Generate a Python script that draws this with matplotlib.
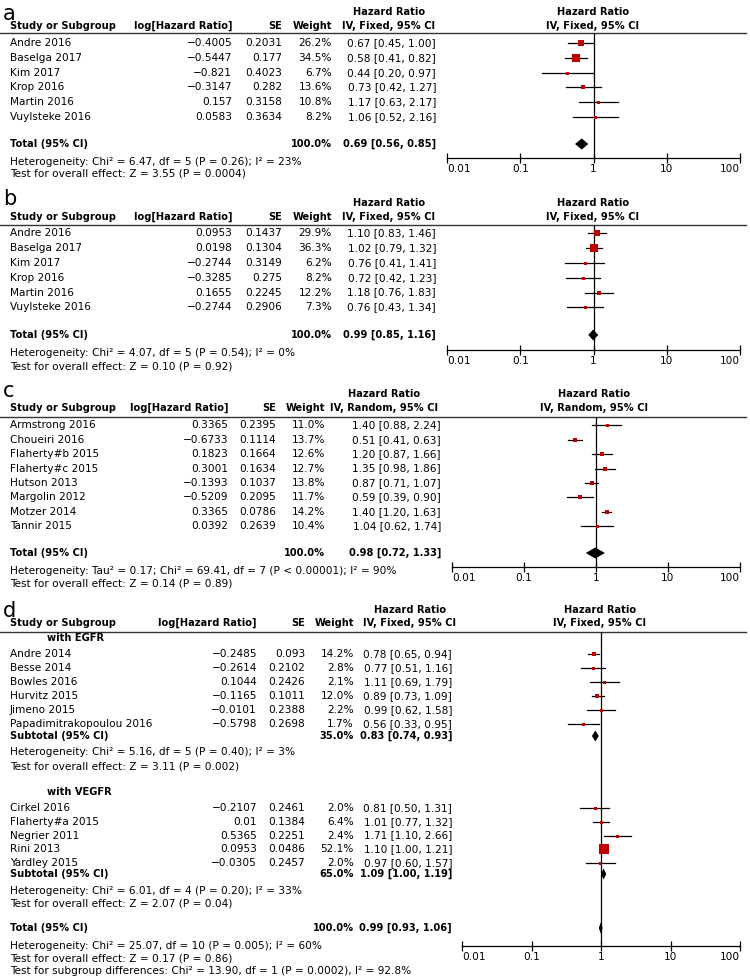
import numpy as np
import matplotlib
matplotlib.use('Agg')
import matplotlib.pyplot as plt
from matplotlib.ticker import NullLocator

plt.rcParams['font.family'] = 'DejaVu Sans'
FS = 7.6
FSB = 7.1
RED = '#c00000'

# ---- panel a ----
a_study = ['Andre 2016', 'Baselga 2017', 'Kim 2017', 'Krop 2016', 'Martin 2016', 'Vuylsteke 2016']
a_loghr = [-0.4005, -0.5447, -0.821, -0.3147, 0.157, 0.0583]
a_se = [0.2031, 0.177, 0.4023, 0.282, 0.3158, 0.3634]
a_weight = [26.2, 34.5, 6.7, 13.6, 10.8, 8.2]
a_hr = [0.67, 0.58, 0.44, 0.73, 1.17, 1.06]
a_lo = [0.45, 0.41, 0.20, 0.42, 0.63, 0.52]
a_hi = [1.00, 0.82, 0.97, 1.27, 2.17, 2.16]
a_total = [0.69, 0.56, 0.85]
a_notes = ['Heterogeneity: Chi² = 6.47, df = 5 (P = 0.26); I² = 23%',
           'Test for overall effect: Z = 3.55 (P = 0.0004)']

# ---- panel b ----
b_study = ['Andre 2016', 'Baselga 2017', 'Kim 2017', 'Krop 2016', 'Martin 2016', 'Vuylsteke 2016']
b_loghr = [0.0953, 0.0198, -0.2744, -0.3285, 0.1655, -0.2744]
b_se = [0.1437, 0.1304, 0.3149, 0.275, 0.2245, 0.2906]
b_weight = [29.9, 36.3, 6.2, 8.2, 12.2, 7.3]
b_hr = [1.10, 1.02, 0.76, 0.72, 1.18, 0.76]
b_lo = [0.83, 0.79, 0.41, 0.42, 0.76, 0.43]
b_hi = [1.46, 1.32, 1.41, 1.23, 1.83, 1.34]
b_total = [0.99, 0.85, 1.16]
b_notes = ['Heterogeneity: Chi² = 4.07, df = 5 (P = 0.54); I² = 0%',
           'Test for overall effect: Z = 0.10 (P = 0.92)']

# ---- panel c ----
c_study = ['Armstrong 2016', 'Choueiri 2016', 'Flaherty#b 2015', 'Flaherty#c 2015',
           'Hutson 2013', 'Margolin 2012', 'Motzer 2014', 'Tannir 2015']
c_loghr = [0.3365, -0.6733, 0.1823, 0.3001, -0.1393, -0.5209, 0.3365, 0.0392]
c_se = [0.2395, 0.1114, 0.1664, 0.1634, 0.1037, 0.2095, 0.0786, 0.2639]
c_weight = [11.0, 13.7, 12.6, 12.7, 13.8, 11.7, 14.2, 10.4]
c_hr = [1.40, 0.51, 1.20, 1.35, 0.87, 0.59, 1.40, 1.04]
c_lo = [0.88, 0.41, 0.87, 0.98, 0.71, 0.39, 1.20, 0.62]
c_hi = [2.24, 0.63, 1.66, 1.86, 1.07, 0.90, 1.63, 1.74]
c_total = [0.98, 0.72, 1.33]
c_notes = ['Heterogeneity: Tau² = 0.17; Chi² = 69.41, df = 7 (P < 0.00001); I² = 90%',
           'Test for overall effect: Z = 0.14 (P = 0.89)']

# ---- panel d ----
d1_study = ['Andre 2014', 'Besse 2014', 'Bowles 2016', 'Hurvitz 2015', 'Jimeno 2015',
            'Papadimitrakopoulou 2016']
d1_loghr = [-0.2485, -0.2614, 0.1044, -0.1165, -0.0101, -0.5798]
d1_se = [0.093, 0.2102, 0.2426, 0.1011, 0.2388, 0.2698]
d1_weight = [14.2, 2.8, 2.1, 12.0, 2.2, 1.7]
d1_hr = [0.78, 0.77, 1.11, 0.89, 0.99, 0.56]
d1_lo = [0.65, 0.51, 0.69, 0.73, 0.62, 0.33]
d1_hi = [0.94, 1.16, 1.79, 1.09, 1.58, 0.95]
d1_sub = [0.83, 0.74, 0.93]
d1_subw = 35.0
d1_notes = ['Heterogeneity: Chi² = 5.16, df = 5 (P = 0.40); I² = 3%',
            'Test for overall effect: Z = 3.11 (P = 0.002)']

d2_study = ['Cirkel 2016', 'Flaherty#a 2015', 'Negrier 2011', 'Rini 2013', 'Yardley 2015']
d2_loghr = [-0.2107, 0.01, 0.5365, 0.0953, -0.0305]
d2_se = [0.2461, 0.1384, 0.2251, 0.0486, 0.2457]
d2_weight = [2.0, 6.4, 2.4, 52.1, 2.0]
d2_hr = [0.81, 1.01, 1.71, 1.10, 0.97]
d2_lo = [0.50, 0.77, 1.10, 1.00, 0.60]
d2_hi = [1.31, 1.32, 2.66, 1.21, 1.57]
d2_sub = [1.09, 1.00, 1.19]
d2_subw = 65.0
d2_notes = ['Heterogeneity: Chi² = 6.01, df = 4 (P = 0.20); I² = 33%',
            'Test for overall effect: Z = 2.07 (P = 0.04)']

d_total = [0.99, 0.93, 1.06]
d_notes = ['Heterogeneity: Chi² = 25.07, df = 10 (P = 0.005); I² = 60%',
           'Test for overall effect: Z = 0.17 (P = 0.86)',
           'Test for subgroup differences: Chi² = 13.90, df = 1 (P = 0.0002), I² = 92.8%']

W, H = 750, 980
fig = plt.figure(figsize=(7.5, 9.8), dpi=100)
bg = fig.add_axes([0, 0, 1, 1])
bg.set_xlim(0, W)
bg.set_ylim(H, 0)
bg.axis('off')


def txt(x, y, s, ha='left', bold=False, size=None, va='center'):
    if size is None:
        size = FSB if bold else FS
    bg.text(x, y, s, ha=ha, va=va, fontsize=size,
            fontweight='bold' if bold else 'normal', color='black')


def num(v):
    return str(v).replace('-', '\u2212')


def hrtxt(h, l, u):
    return '%.2f [%.2f, %.2f]' % (h, l, u)


def forest_ax(x0, x1, ytop, ybot):
    ax = fig.add_axes([x0 / W, 1 - ybot / H, (x1 - x0) / W, (ybot - ytop) / H])
    ax.set_xscale('log')
    ax.set_xlim(0.01, 100)
    ax.set_ylim(ybot, ytop)
    ax.patch.set_alpha(0)
    for s in ['left', 'right', 'top']:
        ax.spines[s].set_visible(False)
    ax.spines['bottom'].set_linewidth(0.9)
    ax.set_yticks([])
    ax.set_xticks([0.01, 0.1, 1, 10, 100])
    ax.set_xticklabels(['0.01', '0.1', '1', '10', '100'], fontsize=FS)
    ax.xaxis.set_minor_locator(NullLocator())
    ax.tick_params(axis='x', direction='inout', length=7, width=0.9, pad=1)
    for lbl, ha in zip(ax.get_xticklabels(), ['left', 'center', 'center', 'center', 'right']):
        lbl.set_horizontalalignment(ha)
    ax.axvline(1, color='black', lw=0.9)
    return ax


def study_rows(ax, cols, ys, study, loghr, se, weight, hr, lo, hi):
    xname, xlog, xse, xw, xhr = cols
    for y, s, lg, e, w, h, l, u in zip(ys, study, loghr, se, weight, hr, lo, hi):
        txt(xname, y, s)
        txt(xlog, y, num(lg), ha='right')
        txt(xse, y, num(e), ha='right')
        txt(xw, y, '%.1f%%' % w, ha='right')
        txt(xhr, y, hrtxt(h, l, u), ha='right')
        ax.plot([l, u], [y, y], color='black', lw=0.9)
        side = max(3.0, 0.19 * w + 0.8)
        ax.plot(h, y, marker='s', ms=side * 0.72, color=RED, mec=RED, mew=0)


def diamond(ax, y, est, hh=5.5):
    h, l, u = est
    ax.fill([l, h, u, h], [y, y - hh, y, y + hh], color='black', lw=0, clip_on=False)


def header(letter, lbase, y1, y2, yline, cols, hrc, plotc, method):
    xname, xlog, xse, xw, xhr = cols
    txt(3, lbase, letter, size=15, va='baseline')
    txt(hrc, y1, 'Hazard Ratio', ha='center', bold=True)
    txt(plotc, y1, 'Hazard Ratio', ha='center', bold=True)
    txt(xname, y2, 'Study or Subgroup', bold=True)
    txt(xlog, y2, 'log[Hazard Ratio]', ha='right', bold=True)
    txt(xse, y2, 'SE', ha='right', bold=True)
    txt(xw, y2, 'Weight', ha='right', bold=True)
    txt(hrc, y2, method, ha='center', bold=True)
    txt(plotc, y2, method, ha='center', bold=True)
    bg.plot([0, 746], [yline, yline], color='#333333', lw=1.0)


def rows_y(start, step, n):
    return [start + i * step for i in range(n)]


# panel a
cols = (10, 232, 282, 332, 436)
header('a', 19.8, 12, 26, 33, cols, 389, 593, 'IV, Fixed, 95% CI')
ax = forest_ax(447, 740, 33, 158)
study_rows(ax, cols, rows_y(43.3, 14.7, 6), a_study, a_loghr, a_se, a_weight, a_hr, a_lo, a_hi)
txt(10, 144, 'Total (95% CI)', bold=True)
txt(332, 144, '100.0%', ha='right', bold=True)
txt(436, 144, hrtxt(*a_total), ha='right', bold=True)
diamond(ax, 144, a_total)
txt(10, 162, a_notes[0])
txt(10, 174, a_notes[1])

# panel b
header('b', 205, 203, 217, 225, cols, 389, 593, 'IV, Fixed, 95% CI')
ax = forest_ax(447, 740, 225, 350)
study_rows(ax, cols, rows_y(233.3, 14.8, 6), b_study, b_loghr, b_se, b_weight, b_hr, b_lo, b_hi)
txt(10, 335, 'Total (95% CI)', bold=True)
txt(332, 335, '100.0%', ha='right', bold=True)
txt(436, 335, hrtxt(*b_total), ha='right', bold=True)
diamond(ax, 335, b_total)
txt(10, 353, b_notes[0])
txt(10, 366, b_notes[1])

# panel c
cols = (10, 228, 276, 325, 441)
header('c', 397, 394, 408, 417, cols, 384, 594, 'IV, Random, 95% CI')
ax = forest_ax(452, 740, 417, 567)
study_rows(ax, cols, rows_y(425.3, 14.4, 8), c_study, c_loghr, c_se, c_weight, c_hr, c_lo, c_hi)
txt(10, 553, 'Total (95% CI)', bold=True)
txt(325, 553, '100.0%', ha='right', bold=True)
txt(441, 553, hrtxt(*c_total), ha='right', bold=True)
diamond(ax, 553, c_total)
txt(10, 571, c_notes[0])
txt(10, 583, c_notes[1])

# panel d
cols = (10, 257, 305, 354, 452)
header('d', 617, 610, 623, 632, cols, 410, 600, 'IV, Fixed, 95% CI')
ax = forest_ax(462, 740, 632, 946)
txt(47, 638, 'with EGFR', bold=True)
study_rows(ax, cols, rows_y(654, 14.0, 6), d1_study, d1_loghr, d1_se, d1_weight, d1_hr, d1_lo, d1_hi)
txt(10, 736, 'Subtotal (95% CI)', bold=True)
txt(354, 736, '%.1f%%' % d1_subw, ha='right', bold=True)
txt(452, 736, hrtxt(*d1_sub), ha='right', bold=True)
diamond(ax, 736, d1_sub)
txt(10, 752, d1_notes[0])
txt(10, 766, d1_notes[1])

txt(47, 792, 'with VEGFR', bold=True)
study_rows(ax, cols, rows_y(808, 13.75, 5), d2_study, d2_loghr, d2_se, d2_weight, d2_hr, d2_lo, d2_hi)
txt(10, 874, 'Subtotal (95% CI)', bold=True)
txt(354, 874, '%.1f%%' % d2_subw, ha='right', bold=True)
txt(452, 874, hrtxt(*d2_sub), ha='right', bold=True)
diamond(ax, 874, d2_sub)
txt(10, 891, d2_notes[0])
txt(10, 903, d2_notes[1])

txt(10, 928, 'Total (95% CI)', bold=True)
txt(354, 928, '100.0%', ha='right', bold=True)
txt(452, 928, hrtxt(*d_total), ha='right', bold=True)
diamond(ax, 928, d_total)
txt(10, 946, d_notes[0])
txt(10, 958, d_notes[1])
txt(10, 971, d_notes[2])

fig.savefig('out.png', dpi=100, facecolor='white')
plt.close()
